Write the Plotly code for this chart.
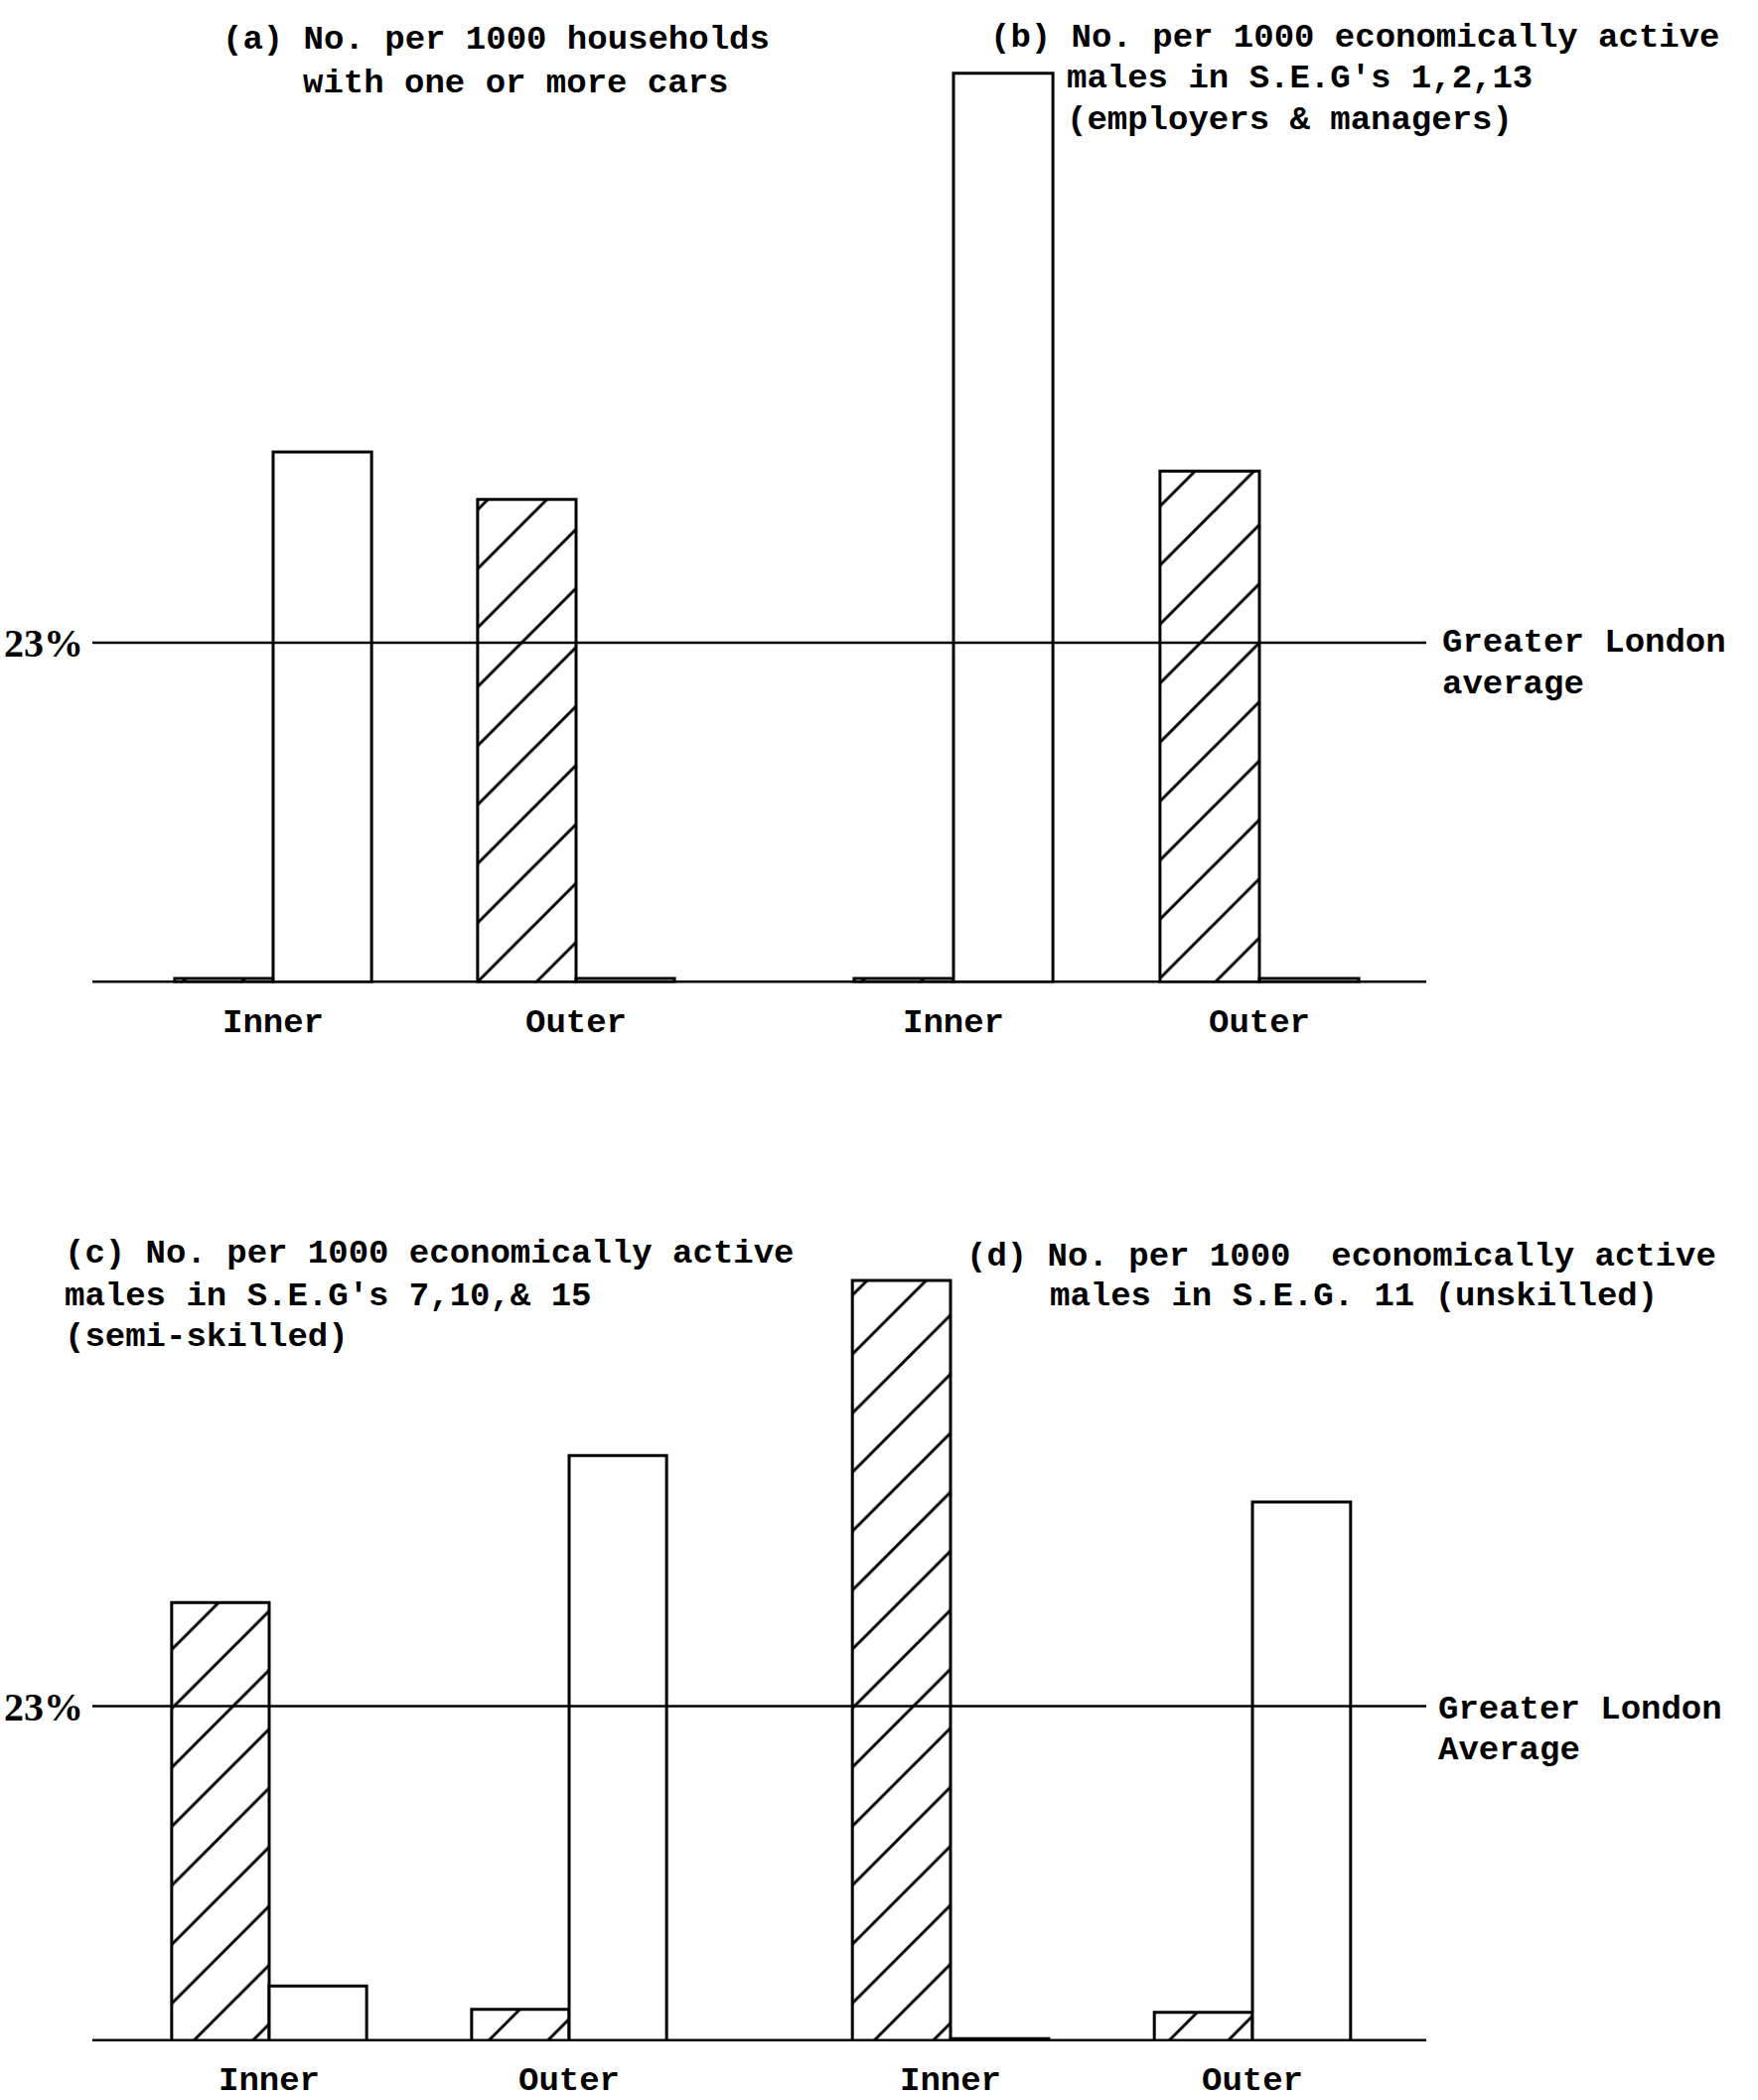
import plotly.graph_objects as go

# Categories along each panel's axis
groups = ["Inner", "Outer"]

# Bar heights (same scale as the Greater London average line)
a_hatched = [0.3, 32.7]
a_open = [35.9, 0.3]
b_hatched = [0.3, 34.6]
b_open = [61.5, 0.3]
c_hatched = [30.1, 2.2]
c_open = [3.8, 40.2]
d_hatched = [52.2, 2.0]
d_open = [0.2, 37.0]

GL_AVERAGE = 23
avg_tick_text = ["23%"]

# Panel headings, one entry per typed line
title_a = ["(a) No. per 1000 households", "with one or more cars"]
title_b = ["(b) No. per 1000 economically active",
           "males in S.E.G's 1,2,13",
           "(employers & managers)"]
title_c = ["(c) No. per 1000 economically active",
           "males in S.E.G's 7,10,& 15",
           "(semi-skilled)"]
title_d = ["(d) No. per 1000\u00a0\u00a0economically active",
           "males in S.E.G. 11 (unskilled)"]
avg_note_top = ["Greater London", "average"]
avg_note_bottom = ["Greater London", "Average"]

# ---------------------------------------------------------------- layout
W, H = 1770, 2114
TYPE_FONT = "Liberation Mono"


def fx(px):
    return px / W


def fy(py):
    return 1 - py / H


# pixel geometry of the two rows
TOP_BASE, TOP_AVG = 991, 648
BOT_BASE, BOT_AVG = 2058, 1720
TOP_DOM_TOP, BOT_DOM_TOP = 40, 1240
top_ppu = (TOP_BASE - TOP_AVG) / GL_AVERAGE
bot_ppu = (BOT_BASE - BOT_AVG) / GL_AVERAGE
top_range = [0, (TOP_BASE - TOP_DOM_TOP) / top_ppu]
bot_range = [0, (BOT_BASE - BOT_DOM_TOP) / bot_ppu]

# horizontal domains: group centres of each panel
centres = {
    "a": (275, 580),
    "b": (960, 1268),
    "c": (271, 573),
    "d": (957, 1261),
}


def domain(c):
    lo, hi = c
    half = (hi - lo) / 2
    return [fx(lo - half), fx(hi + half)]


hatch = dict(shape="/", fgcolor="black", bgcolor="white", size=42,
             solidity=0.07, fillmode="replace")
bar_line = dict(color="black", width=3)

fig = go.Figure()

panels = [
    ("x", "y", a_hatched, a_open),
    ("x2", "y", b_hatched, b_open),
    ("x3", "y2", c_hatched, c_open),
    ("x4", "y2", d_hatched, d_open),
]
for xa, ya, hatched, opened in panels:
    fig.add_trace(go.Bar(x=groups, y=hatched, xaxis=xa, yaxis=ya,
                         marker=dict(color="white", pattern=hatch, line=bar_line),
                         showlegend=False, hoverinfo="skip"))
    fig.add_trace(go.Bar(x=groups, y=opened, xaxis=xa, yaxis=ya,
                         marker=dict(color="white", line=bar_line),
                         showlegend=False, hoverinfo="skip"))

tick_font = dict(family=TYPE_FONT, size=34, color="black", weight="bold")
xcommon = dict(type="category", range=[-0.5, 1.5], showgrid=False,
               zeroline=False, showline=False, ticks="",
               tickfont=tick_font, ticklabelstandoff=14, fixedrange=True)
ycommon = dict(showgrid=False, zeroline=False, showline=False, ticks="",
               tickvals=[GL_AVERAGE], ticktext=avg_tick_text,
               tickfont=dict(family="Liberation Serif", size=40, color="black",
                             weight="bold"),
               anchor="free", position=fx(84), fixedrange=True)

fig.update_layout(
    width=W, height=H,
    margin=dict(l=0, r=0, t=0, b=0),
    paper_bgcolor="white", plot_bgcolor="rgba(0,0,0,0)",
    barmode="group", bargap=0.35, bargroupgap=0,
    xaxis=dict(xcommon, domain=domain(centres["a"]), anchor="y"),
    xaxis2=dict(xcommon, domain=domain(centres["b"]), anchor="y"),
    xaxis3=dict(xcommon, domain=domain(centres["c"]), anchor="y2"),
    xaxis4=dict(xcommon, domain=domain(centres["d"]), anchor="y2"),
    yaxis=dict(ycommon, domain=[fy(TOP_BASE), fy(TOP_DOM_TOP)], range=top_range),
    yaxis2=dict(ycommon, domain=[fy(BOT_BASE), fy(BOT_DOM_TOP)], range=bot_range),
)

# baseline and Greater London average line for each row
LINE_X0, LINE_X1 = fx(93), fx(1436)
for yref in ("y", "y2"):
    fig.add_shape(type="line", xref="paper", yref=yref, x0=LINE_X0, x1=LINE_X1,
                  y0=GL_AVERAGE, y1=GL_AVERAGE, layer="above",
                  line=dict(color="black", width=2.5))
    fig.add_shape(type="line", xref="paper", yref=yref, x0=LINE_X0, x1=LINE_X1,
                  y0=0, y1=0, layer="above",
                  line=dict(color="black", width=5))

# typed headings and notes
text_blocks = [
    (title_a, [(222, 40), (303, 84)]),
    (title_b, [(995, 38), (1072, 79), (1072, 121)]),
    (title_c, [(63, 1264), (63, 1307), (63, 1348)]),
    (title_d, [(971, 1267), (1055, 1307)]),
    (avg_note_top, [(1450, 648), (1450, 690)]),
    (avg_note_bottom, [(1446, 1723), (1446, 1765)]),
]
for lines, spots in text_blocks:
    for line, (px, py) in zip(lines, spots):
        fig.add_annotation(text=line, xref="paper", yref="paper",
                           x=fx(px), y=fy(py), xanchor="left", yanchor="middle",
                           showarrow=False,
                           font=dict(family=TYPE_FONT, size=34, color="black",
                                     weight="bold"))

fig.write_html("out.html")
